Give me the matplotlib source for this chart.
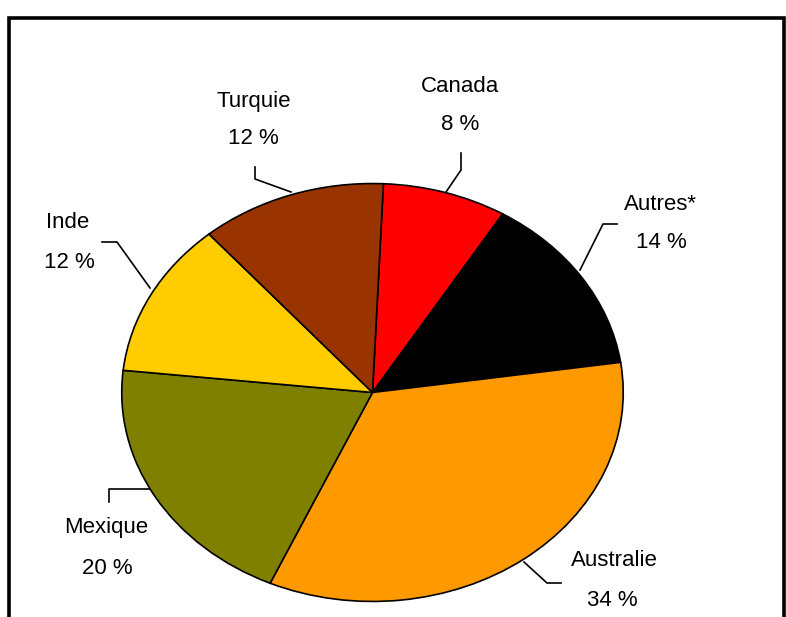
import matplotlib
matplotlib.use("Agg")
import matplotlib.pyplot as plt

# donnees
pays = ["Canada", "Autres*", "Australie", "Mexique", "Inde", "Turquie"]
parts = [8, 14, 34, 20, 12, 12]
couleurs = ["#FF0000", "#000000", "#FF9900", "#808000", "#FFCC00", "#993300"]

# position des etiquettes (pixels) et traits de rappel
pos_nom = [(460, 86), (660, 204), (614, 561), (106, 528), (68, 222), (254, 101)]
pos_pct = [(460, 124), (661, 242), (612, 600), (107, 568), (69, 262), (253, 139)]
traits = [
    [(461, 153), (461, 170), (446, 192)],
    [(617, 224), (603, 224), (580, 270)],
    [(524, 562), (547, 583), (561, 583)],
    [(109, 502), (109, 489), (150, 489)],
    [(102, 242), (117, 242), (150, 288)],
    [(255, 167), (255, 179), (291, 192)],
]

W, H = 786, 617
fig = plt.figure(figsize=(W / 100, H / 100), dpi=100)
fig.patch.set_facecolor("white")

ax0 = fig.add_axes([0, 0, 1, 1])
ax0.set_xlim(0, W)
ax0.set_ylim(H, 0)
ax0.axis("off")

# cadre (bas coupe)
ax0.plot([9, 9, 783.5, 783.5], [H + 5, 17.5, 17.5, H + 5], color="black", lw=2.6,
         solid_joinstyle="miter")

for nom, pct, pn, pp, tr in zip(pays, parts, pos_nom, pos_pct, traits):
    ax0.text(pn[0], pn[1], nom, ha="center", va="center", fontsize=16,
             family="Liberation Sans")
    ax0.text(pp[0], pp[1], "%d %%" % pct, ha="center", va="center", fontsize=16,
             family="Liberation Sans")
    xs = [p[0] for p in tr]
    ys = [p[1] for p in tr]
    ax0.plot(xs, ys, color="black", lw=1.2)

# camembert elliptique
cx, cy, rx, ry = 372.5, 392.5, 252, 210
ax = fig.add_axes([(cx - rx) / W, (H - cy - ry) / H, 2 * rx / W, 2 * ry / H])
ax.pie(parts, colors=couleurs, startangle=87.5, counterclock=False,
       wedgeprops=dict(edgecolor="black", linewidth=1.2))
ax.set_aspect("auto")
ax.set_xlim(-1.005, 1.005)
ax.set_ylim(-1.005, 1.005)
ax.patch.set_alpha(0)

fig.savefig("out.png", dpi=100)
